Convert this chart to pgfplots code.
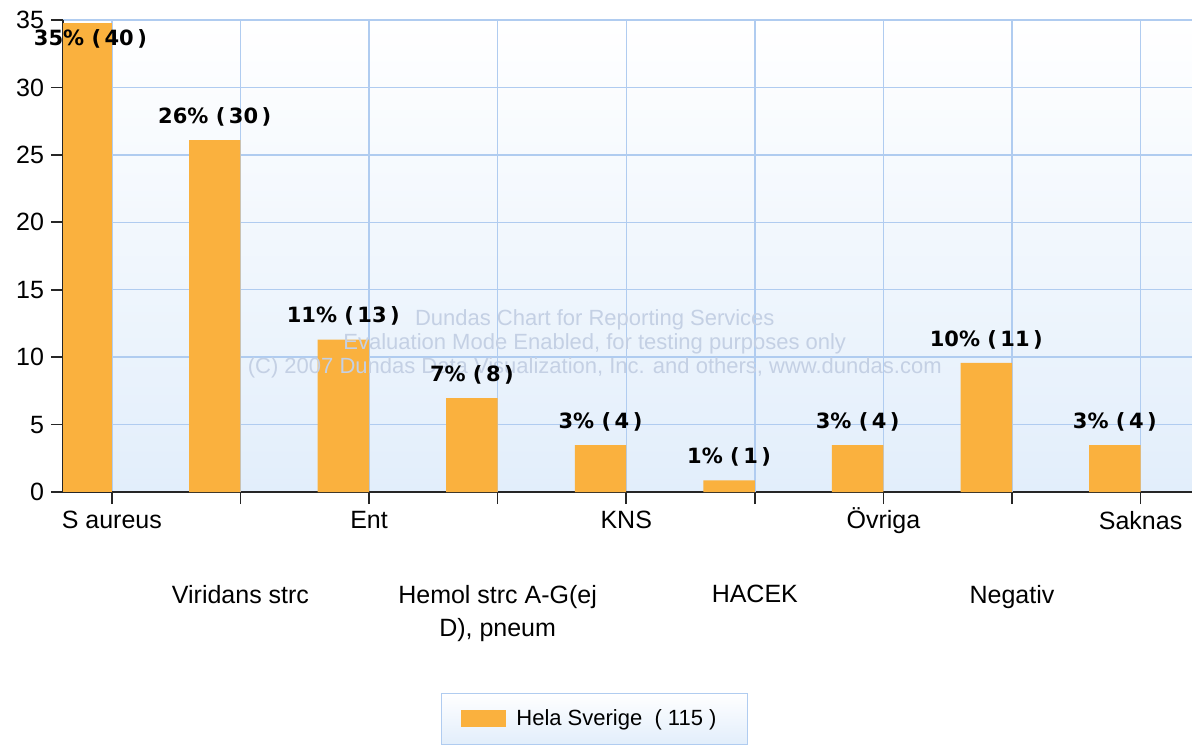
\documentclass[border=0pt]{standalone}
\usepackage{fontspec}
\setmainfont{Liberation Sans}
\newfontfamily\labelfont{DejaVu Sans}
\usepackage{pgfplots}
\pgfplotsset{compat=1.18}

\definecolor{barorange}{RGB}{250,177,62}
\definecolor{gridblue}{RGB}{176,204,240}
\definecolor{bgblue}{RGB}{226,238,251}
\definecolor{wmark}{RGB}{196,208,228}

\begin{document}
\begin{tikzpicture}
\path[use as bounding box] (-31.5pt,-126pt) rectangle (564.5pt,246pt);
\begin{axis}[
    scale only axis,
    width=564.5pt, height=236pt,
    at={(0,0)}, anchor=south west,
    xmin=-0.38, xmax=8.4,
    ymin=0, ymax=35,
    ytick={0,5,...,35},
    xtick={0,2,4,6,8},
    xticklabels={S aureus, Ent, KNS, \raisebox{0pt}[8.95pt]{Övriga}, Saknas},
    extra x ticks={1,3,5,7},
    extra x tick labels={Viridans strc, {Hemol strc A-G(ej\\D), pneum}, HACEK, Negativ},
    extra x tick style={grid=major, tick label style={yshift=-37pt}},
    xticklabel style={align=center, anchor=north},
    tick label style={font=\fontsize{12.5}{16.5}\selectfont, black},
    /pgf/number format/assume math mode=true,
    axis x line*=bottom, axis y line*=left,
    axis line style={black!85, line width=1pt, -},
    tick align=outside,
    major tick length=6pt,
    every tick/.style={black!85, line width=0.8pt},
    grid=major,
    major grid style={gridblue, line width=0.7pt},
    axis background/.style={top color=white, bottom color=bgblue},
    clip=false,
    legend style={at={(0.3348,-0.4258)}, anchor=north west,
        draw=gridblue, top color=white, bottom color=bgblue,
        inner xsep=10pt, inner ysep=5pt,
        nodes={inner sep=3pt},
        /tikz/every odd column/.append style={column sep=2pt},
        font=\fontsize{11}{13}\selectfont},
    legend cell align=left,
    legend image code/.code={\fill[barorange] (0pt,-4.25pt) rectangle (22.5pt,4.25pt);},
]
% bars 2..9, labels above
\addplot[ybar, bar width=0.4, bar shift=0pt, fill=barorange, draw=none,
    point meta=explicit symbolic, nodes near coords,
    every node near coord/.append style={font=\labelfont\bfseries\fontsize{10.5}{12}\selectfont, black, yshift=3.5pt}]
coordinates {
    (0.8,26.09) [26\% (\,30\,)]
    (1.8,11.30) [11\% (\,13\,)]
    (2.8,6.96)  [7\% (\,8\,)]
    (3.8,3.48)  [3\% (\,4\,)]
    (4.8,0.87)  [1\% (\,1\,)]
    (5.8,3.48)  [3\% (\,4\,)]
    (6.8,9.57)  [10\% (\,11\,)]
    (7.8,3.48)  [3\% (\,4\,)]
};
\addlegendentry{Hela Sverige\ \ ( 115 )\hspace*{2.5pt}}
% first bar, label inside the top
\addplot[ybar, bar width=0.38, bar shift=0pt, fill=barorange, draw=none, forget plot,
    point meta=explicit symbolic, nodes near coords,
    every node near coord/.append style={font=\labelfont\bfseries\fontsize{10.5}{12}\selectfont, black, anchor=north, xshift=1.5pt}]
coordinates {(-0.19,34.78) [35\% (\,40\,)]};

\node[wmark, align=center, font=\fontsize{11}{12}\selectfont] at (rel axis cs:0.471,0.314)
    {Dundas Chart for Reporting Services\\Evaluation Mode Enabled, for testing purposes only\\(C) 2007 Dundas Data Visualization, Inc. and others, www.dundas.com};
\end{axis}
\end{tikzpicture}
\end{document}
